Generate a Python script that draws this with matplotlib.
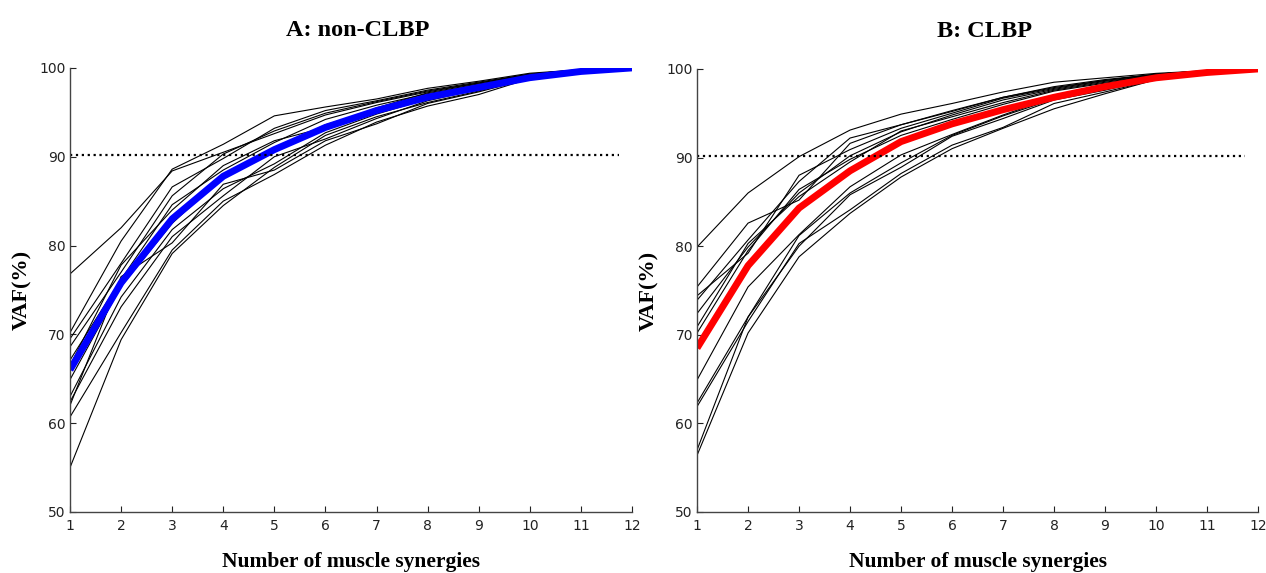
import numpy as np
import matplotlib
matplotlib.use("Agg")
import matplotlib.pyplot as plt

n_syn = np.arange(1, 13)

# VAF curves per subject, non-CLBP group
non_clbp = [
    [76.8, 82.0, 88.4, 90.5, 92.6, 94.7, 96.1, 97.3, 98.3, 99.2, 99.8, 100],
    [70.2, 80.5, 88.6, 91.4, 94.6, 95.6, 96.5, 97.7, 98.5, 99.4, 99.8, 100],
    [69.5, 78.0, 86.6, 89.8, 93.2, 95.2, 96.3, 97.5, 98.4, 99.3, 99.8, 100],
    [68.6, 77.0, 85.6, 90.3, 92.9, 94.9, 96.2, 97.4, 98.3, 99.3, 99.8, 100],
    [67.1, 76.2, 84.6, 88.5, 91.6, 94.2, 95.8, 97.1, 98.1, 99.2, 99.7, 100],
    [64.9, 75.4, 82.5, 87.8, 90.9, 93.6, 95.3, 96.9, 97.9, 99.1, 99.7, 100],
    [63.0, 74.2, 81.8, 86.4, 89.2, 92.7, 94.8, 96.5, 97.7, 99.0, 99.7, 100],
    [62.4, 73.1, 81.0, 85.6, 90.0, 92.0, 94.3, 96.3, 97.6, 98.9, 99.6, 100],
    [62.0, 76.5, 80.3, 86.9, 88.5, 91.8, 93.7, 96.0, 97.3, 98.8, 99.6, 100],
    [60.7, 70.2, 79.5, 85.0, 88.0, 91.3, 93.9, 95.7, 97.0, 98.8, 99.6, 100],
    [55.0, 69.4, 79.1, 84.5, 88.8, 92.4, 94.5, 96.1, 97.4, 98.9, 99.6, 100],
    [66.5, 77.8, 84.0, 89.0, 91.8, 93.3, 95.5, 97.2, 98.2, 99.1, 99.7, 100],
]
non_clbp_mean = [66.0, 75.8, 83.0, 87.8, 90.8, 93.3, 95.2, 96.7, 97.8, 98.9, 99.6, 100]

# VAF curves per subject, CLBP group
clbp = [
    [79.9, 86.0, 90.1, 93.1, 94.9, 96.1, 97.4, 98.5, 99.0, 99.5, 99.8, 100],
    [75.4, 82.6, 85.2, 91.6, 93.7, 95.2, 96.8, 97.9, 98.7, 99.4, 99.8, 100],
    [74.4, 79.2, 88.0, 90.9, 93.3, 95.0, 96.7, 97.8, 98.7, 99.4, 99.8, 100],
    [73.9, 80.7, 87.3, 92.2, 93.7, 95.3, 96.8, 98.0, 98.8, 99.4, 99.8, 100],
    [72.4, 79.9, 86.0, 90.2, 92.9, 94.8, 96.5, 97.7, 98.6, 99.3, 99.8, 100],
    [70.9, 80.3, 85.6, 89.5, 93.0, 94.6, 96.2, 97.6, 98.5, 99.3, 99.7, 100],
    [70.2, 79.5, 86.4, 89.8, 92.5, 94.3, 96.0, 97.5, 98.4, 99.2, 99.7, 100],
    [64.9, 75.4, 81.3, 86.7, 90.3, 92.6, 94.8, 96.8, 97.9, 99.0, 99.7, 100],
    [62.3, 72.0, 81.2, 86.0, 89.4, 92.5, 94.7, 96.6, 97.8, 98.9, 99.6, 100],
    [61.9, 71.5, 80.3, 84.1, 88.2, 91.4, 93.4, 96.1, 97.4, 98.8, 99.6, 100],
    [57.0, 72.0, 80.0, 85.8, 88.9, 92.4, 94.4, 96.5, 97.6, 98.9, 99.6, 100],
    [56.4, 70.2, 78.8, 83.7, 87.8, 91.0, 93.3, 95.5, 97.2, 98.8, 99.6, 100],
]
clbp_mean = [68.5, 77.8, 84.3, 88.5, 91.8, 93.8, 95.4, 96.8, 98.0, 99.0, 99.6, 100]

threshold = 90.2
titles = ["A: non-CLBP", "B: CLBP"]

fig = plt.figure(figsize=(12.66, 5.73), dpi=100)
ax1 = fig.add_axes([0.0553, 0.1065, 0.4439, 0.775])
ax2 = fig.add_axes([0.5506, 0.1065, 0.4431, 0.7732])

serif = "Liberation Serif"

for ax, subjects, mean, color, title in [
    (ax1, non_clbp, non_clbp_mean, "#0000ff", titles[0]),
    (ax2, clbp, clbp_mean, "#ff0000", titles[1]),
]:
    for s in subjects:
        ax.plot(n_syn, s, color="black", lw=0.8)
    ax.plot(n_syn, mean, color=color, lw=5.0, solid_capstyle="butt")
    ax.plot([1, 11.75], [threshold, threshold], color="black", ls=":", lw=1.6)

    ax.set_xlim(1, 12)
    ax.set_ylim(50, 100)
    ax.set_xticks(n_syn)
    ax.set_yticks([50, 60, 70, 80, 90, 100])
    ax.tick_params(direction="in", length=4, width=0.8, labelsize=10,
                   colors="#222222", pad=5)
    ax.tick_params(axis="y", pad=3)
    for side in ["top", "right"]:
        ax.spines[side].set_visible(False)
    for side in ["left", "bottom"]:
        ax.spines[side].set_color("#444444")
        ax.spines[side].set_linewidth(1.0)

    ax.set_title(title, fontfamily=serif, fontweight="bold", fontsize=17.5,
                 pad=23, x=0.512)
    ax.set_xlabel("Number of muscle synergies", fontfamily=serif,
                  fontweight="bold", fontsize=15.5, labelpad=14)
    ax.set_ylabel("VAF(%)", fontfamily=serif, fontweight="bold",
                  fontsize=16, labelpad=5)

fig.savefig("out.png", dpi=100)
